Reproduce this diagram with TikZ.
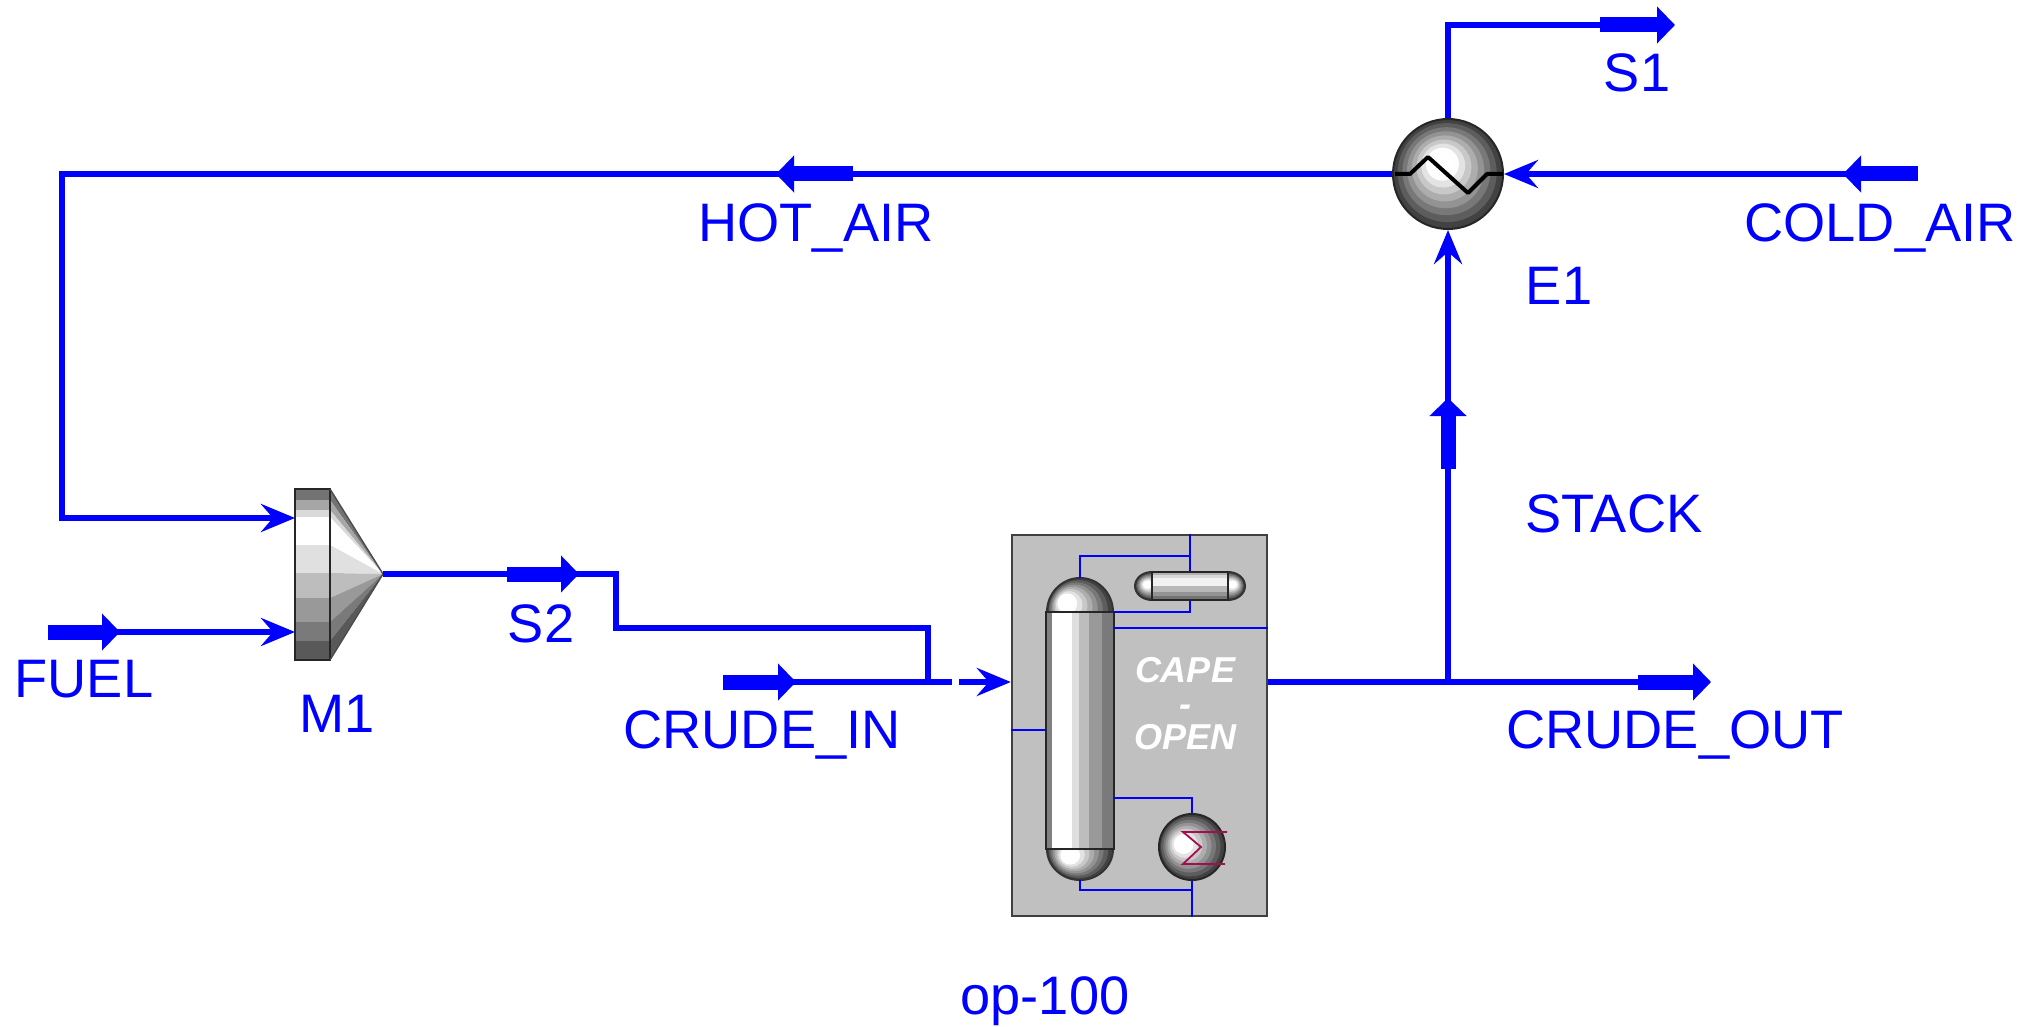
\documentclass[tikz,border=0pt]{standalone}
\usepackage{fontspec}
\setmainfont{Liberation Sans}
\usetikzlibrary{arrows.meta}
\definecolor{strm}{HTML}{0000FF}
\definecolor{boxgray}{HTML}{C0C0C0}
\definecolor{sigmared}{HTML}{A01050}
\tikzset{
  x=0.5pt,y=-0.5pt,
  stream/.style={draw=strm,line width=3pt},
  thin stream/.style={draw=strm,line width=1.3pt},
  inlet/.style={stream,-{Stealth[length=17pt,width=14pt,inset=6pt]}},
  marker/.style={draw=strm,line width=7.5pt,-{Triangle[length=9pt,width=18pt]},shorten <=0pt},
  lbl/.style={text=strm,font=\fontsize{27.1pt}{30pt}\selectfont,anchor=base,inner sep=0pt},
  capelbl/.style={text=white,font=\fontsize{18pt}{16.75pt}\selectfont\bfseries\itshape,inner sep=0pt,align=center},
  unitedge/.style={draw=black!80,line width=1pt},
}
% banded ball: cx cy rx ry hx hy
\newcommand{\bandball}[6]{%
  \foreach \k in {0,...,9}{%
    \pgfmathsetmacro{\tt}{\k/10}
    \pgfmathsetmacro{\ccx}{#1+(#5-#1)*\tt}
    \pgfmathsetmacro{\ccy}{#2+(#6-#2)*\tt}
    \pgfmathsetmacro{\gl}{max(0,74-\k*10.5)}
    \pgfmathsetmacro{\rrx}{#3*(1-\tt)}
    \pgfmathsetmacro{\rry}{#4*(1-\tt)}
    \fill[black!\gl!white] (\ccx,\ccy) ellipse [x radius=\rrx*0.5pt,y radius=\rry*0.5pt];
  }%
}
\begin{document}
\begin{tikzpicture}
\useasboundingbox (0,0) rectangle (2028,1027);
\fill[white] (0,0) rectangle (2028,1027);

% ---------- E1 ----------
\bandball{1448}{174}{55}{55}{1440}{160}
\node[circle,draw=black!85,line width=1pt,minimum size=55pt,inner sep=0pt] (E1) at (1448,174) {};
\coordinate (c1) at (1395,174);
\coordinate (c2) at (1410,174);
\coordinate (c3) at (1428,157);
\coordinate (c4) at (1468,193);
\coordinate (c5) at (1487,174);
\coordinate (c6) at (1503,174);

% ---------- M1 ----------
\foreach \a/\b/\g in {489/500/55,500/510/35,510/517/15,517/545/0,545/573/12,573/598/26,598/622/40,622/641/52,641/660/65}{
  \fill[black!\g!white] (295,\a) rectangle (330,\b);
  \fill[black!\g!white] (330,\a) -- (330,\b) -- (383,574) -- cycle;
}
\node[draw=black!85,line width=1pt,minimum width=17.5pt,minimum height=85.5pt,inner sep=0pt] (M1) at (312.5,574.5) {};
\coordinate (M1tip) at (383,574);
\draw[draw=black!70,line width=0.7pt] (330,489) -- (M1tip) -- (330,660);
\coordinate (M1a) at (295,518);
\coordinate (M1b) at (295,632);

% ---------- op-100 ----------
\node[draw=black!75,fill=boxgray,line width=1.2pt,minimum width=127.5pt,minimum height=190.5pt,inner sep=0pt] (op) at (1139.5,725.5) {};
% column body
\foreach \a/\b/\g in {1046/1052/50,1052/1072/0,1072/1079/13,1079/1089/26,1089/1102/40,1102/1114/52}{
  \fill[black!\g!white] (\a,612) rectangle (\b,849);
}
\begin{scope}
  \clip (1040,570) rectangle (1120,612);
  \bandball{1080}{612}{33}{34}{1062}{600}
  \draw[unitedge] (1080,612) ellipse [x radius=16.5pt,y radius=17pt];
\end{scope}
\begin{scope}
  \clip (1040,849) rectangle (1120,888);
  \bandball{1080}{849}{33}{31}{1066}{858}
  \draw[unitedge] (1080,849) ellipse [x radius=16.5pt,y radius=15.5pt];
\end{scope}
\node[draw=black!85,line width=1pt,minimum width=34pt,minimum height=118.5pt,inner sep=0pt] (col) at (1080,730.5) {};
% condenser drum
\bandball{1152}{586}{17}{14}{1146}{584}
\bandball{1228}{586}{17}{14}{1234}{584}
\draw[unitedge] (1152,586) ellipse [x radius=8.5pt,y radius=7pt];
\draw[unitedge] (1228,586) ellipse [x radius=8.5pt,y radius=7pt];
\foreach \a/\b/\g in {572/575/30,575/578/15,578/586/5,586/592/28,592/596/42,596/600/55}{
  \fill[black!\g!white] (1152,\a) rectangle (1228,\b);
}
\node[draw=black!85,line width=1pt,minimum width=38pt,minimum height=14pt,inner sep=0pt] (drum) at (1190,586) {};
% reboiler
\bandball{1192}{847}{33}{33}{1180}{843}
\node[circle,draw=black!85,line width=1pt,minimum size=33pt,inner sep=0pt] (reb) at (1192,847) {};
\draw[sigmared,line width=0.9pt] (1227,832) -- (1183,832) -- (1201,847) -- (1183,864) -- (1225,864);
% internal lines
\draw[thin stream] (op.north -| drum.north) -- (drum.north);
\coordinate (i1) at (1190,556);
\coordinate (i2) at (1080,556);
\coordinate (i3) at (1080,578);
\draw[thin stream] (i1) -- (i2) -- (i3);
\coordinate (i4) at (1190,612);
\coordinate (i5) at (1114,612);
\draw[thin stream] (drum.south) -- (i4) -- (i5);
\coordinate (i6) at (1114,628);
\draw[thin stream] (i6) -- (i6 -| op.east);
\coordinate (i7) at (1046,730);
\draw[thin stream] (i7 -| op.west) -- (i7);
\coordinate (i8) at (1114,798);
\coordinate (i9) at (1192,798);
\draw[thin stream] (i8) -- (i9) -- (reb.north);
\coordinate (i10) at (1080,880);
\coordinate (i11) at (1080,890);
\coordinate (i12) at (1192,890);
\draw[thin stream] (i10) -- (i11) -- (i12);
\draw[thin stream] (reb.south) -- (reb.south |- op.south);
\node[capelbl] (cape) at (1185,704) {CAPE\\-\\OPEN};

% ---------- streams ----------
% HOT_AIR
\coordinate (h1) at (62,174);
\coordinate (h2) at (62,518);
\draw[stream,-{Stealth[length=17pt,width=14pt,inset=6pt]}] (E1.west) -- (h1) -- (h2) -- (M1a);
\coordinate (hm1) at (853,174);
\coordinate (hm2) at (776,174);
\draw[marker] (hm1) -- (hm2);
% COLD_AIR
\coordinate (ca0) at (1918,174);
\coordinate (ca1) at (1843,174);
\draw[inlet] (ca0) -- (E1.east);
\draw[marker] (ca0) -- (ca1);
% S1
\coordinate (s1a) at (1448,25);
\coordinate (s1b) at (1600,25);
\coordinate (s1c) at (1675,25);
\draw[stream] (E1.north) -- (s1a) -- (s1b);
\draw[marker] (s1b) -- (s1c);
% FUEL
\coordinate (f0) at (48,632);
\coordinate (f1) at (120,632);
\draw[inlet] (f0) -- (M1b);
\draw[marker] (f0) -- (f1);
% S2
\coordinate (s2a) at (507,574);
\coordinate (s2b) at (579,574);
\coordinate (s2c) at (616,574);
\coordinate (s2d) at (616,628);
\coordinate (s2e) at (928,628);
\coordinate (s2f) at (928,682);
\draw[stream] (M1tip) -- (s2c) -- (s2d) -- (s2e) -- (s2f);
\draw[marker] (s2a) -- (s2b);
% CRUDE_IN
\coordinate (ci0) at (723,682);
\coordinate (ci1) at (796,682);
\coordinate (ci2) at (952,682);
\coordinate (ci3) at (959,682);
\draw[stream] (ci0) -- (ci2);
\draw[marker] (ci0) -- (ci1);
\draw[inlet] (ci3) -- (op.west |- ci3);
% CRUDE_OUT
\coordinate (co0) at (1638,682);
\coordinate (co1) at (1711,682);
\coordinate (st0) at (1448,682);
\draw[stream] (op.east |- co0) -- (co0);
\draw[marker] (co0) -- (co1);
% STACK
\coordinate (st1) at (1448,469);
\coordinate (st2) at (1448,398);
\draw[inlet] (st0) -- (E1.south);
\draw[marker] (st1) -- (st2);
% E1 coil (over the stream ends)
\draw[black,line width=2pt,line join=round] (c1) -- (1410,174) -- (c3) -- (c4) -- (c5) -- (c6);

% ---------- labels ----------
\node[lbl] (lHOT) at (816,242) {HOT\_AIR};
\node[lbl] (lCOLD) at (1880,242) {COLD\_AIR};
\node[lbl] (lS1) at (1637,92) {S1};
\node[lbl] (lE1) at (1559,304) {E1};
\node[lbl] (lST) at (1614,532) {STACK};
\node[lbl] (lCO) at (1675,748) {CRUDE\_OUT};
\node[lbl] (lCI) at (762,748) {CRUDE\_IN};
\node[lbl] (lOP) at (1045,1014) {op-100};
\node[lbl] (lS2) at (541,642) {S2};
\node[lbl] (lM1) at (337,732) {M1};
\node[lbl] (lF) at (84,697) {FUEL};
\end{tikzpicture}
\end{document}
